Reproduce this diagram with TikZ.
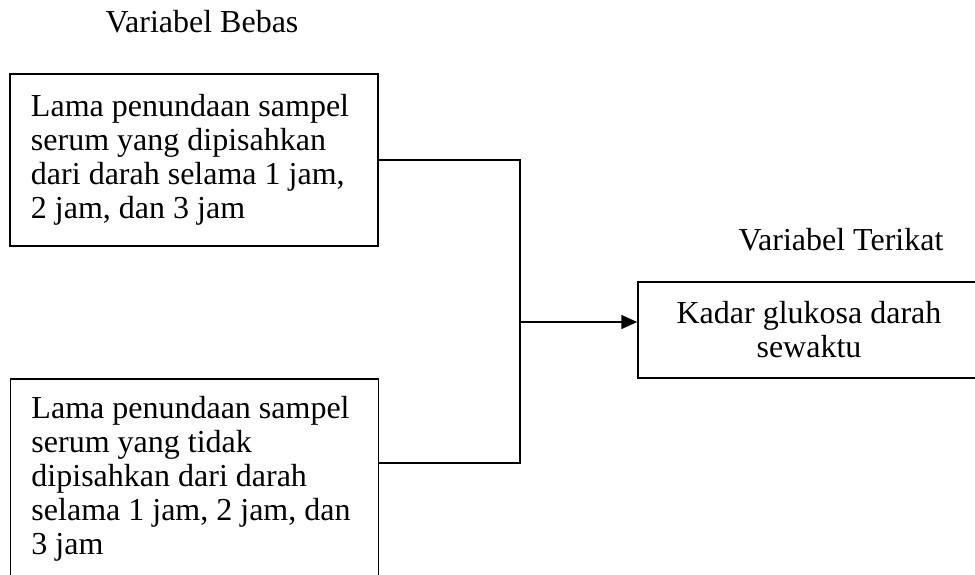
\documentclass[tikz,border=0pt]{standalone}
\usepackage{fontspec}
\setmainfont{Liberation Serif}
\usetikzlibrary{arrows.meta}
\usetikzlibrary{positioning}

\begin{document}
\begin{tikzpicture}[x=0.5pt,y=0.5pt,line width=0.75pt,
>={Triangle[length=8pt,width=7pt]},
font=\fontsize{16}{17}\selectfont]
\tikzstyle{every node}=[inner sep=0pt]
\tikzstyle{var}=[draw,align=flush left,text width=163pt,inner xsep=10.5pt]

\useasboundingbox (0,0) rectangle (975,574);

\node[var,minimum height=86pt] (A) at (194,414)
  {Lama penundaan sampel\\ serum yang dipisahkan\\ dari darah selama 1 jam,\\ 2 jam, dan 3 jam};
\node[var,anchor=north,inner ysep=9pt] (B) at (194.5,196)
  {Lama penundaan sampel\\ serum yang tidak\\ dipisahkan dari darah\\ selama 1 jam, 2 jam, dan\\ 3 jam\\ ~};
\node[draw,align=center,minimum width=171pt,minimum height=48pt] (C) at (809,244)
  {Kadar glukosa darah\\ sewaktu};

\node[anchor=base] (TA) at (202,541) {Variabel Bebas};
\node[anchor=base] (TC) at (841,323) {Variabel Terikat};

\coordinate (J) at (520,252);
\coordinate[below=42.5pt of B.north east] (Bc);

\draw (A.east) -| (J) |- (Bc);
\draw[->] (J) -- (J -| C.west);
\end{tikzpicture}
\end{document}
